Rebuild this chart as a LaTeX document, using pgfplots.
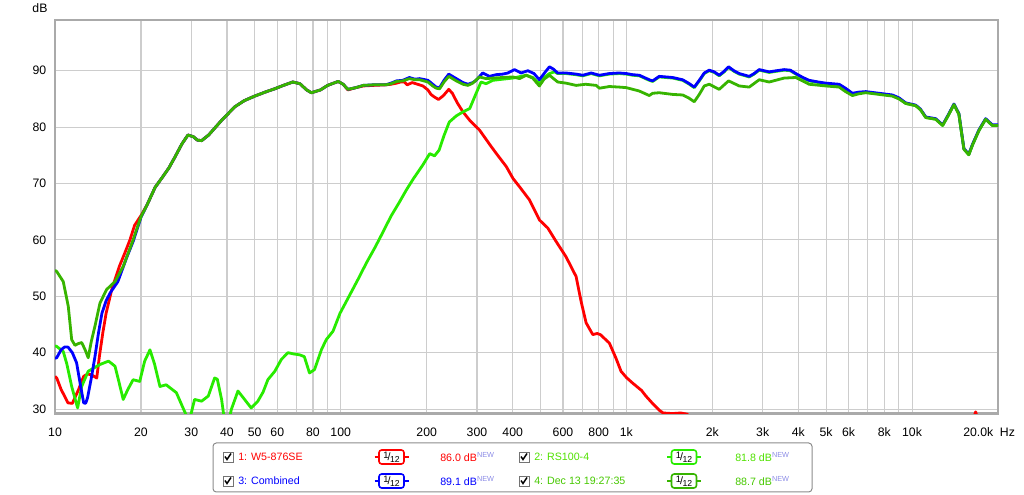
\documentclass[border=0pt]{standalone}
\usepackage{pgfplots}
\pgfplotsset{compat=1.18}
\usepackage{fontspec}
\setmainfont{Liberation Sans}
\definecolor{cRed}{RGB}{255,0,0}
\definecolor{cBlue}{RGB}{0,0,255}
\definecolor{cLime}{RGB}{40,235,0}
\definecolor{cDark}{RGB}{55,180,0}
\definecolor{cLimeTxt}{RGB}{80,225,0}
\definecolor{cDarkTxt}{RGB}{70,200,0}
\definecolor{cGrid}{RGB}{205,205,205}
\definecolor{cFrame}{RGB}{170,170,170}
\definecolor{cNew}{RGB}{140,140,230}
\newcommand{\tfont}{\fontsize{9.2}{11}\selectfont}
\newcommand{\lfont}{\fontsize{8}{9.5}\selectfont}
\newcommand{\chk}[2]{%
  \draw[black!55, line width=0.6pt, fill=white] (#1,#2-5) rectangle (#1+10,#2+5);
  \draw[black, line width=1.1pt] (#1+2,#2-0.5) -- (#1+4,#2+2.5) -- (#1+8,#2-3.5);}
\newcommand{\filt}[3]{%
  \draw[#3, line width=1pt] (#1,#2) -- (#1+34,#2);
  \draw[#3, line width=1.2pt, fill=white, rounded corners=2pt] (#1+4.5,#2-7) rectangle (#1+29.5,#2+7);
  \node[font=\lfont, inner sep=0] at (#1+17,#2) {\raisebox{1.8pt}{\fontsize{7}{7}\selectfont 1}\hspace{-0.6pt}/\hspace{-0.4pt}\raisebox{-1.5pt}{\fontsize{6.5}{7}\selectfont 12}};}
\begin{document}
\begin{tikzpicture}
\path[use as bounding box] (0,0) rectangle (768pt,371.25pt);
\begin{axis}[
  at={(41.25pt,61.25pt)}, anchor=south west,
  scale only axis, width=707.25pt, height=295pt,
  xmode=log, xmin=10, xmax=20000, ymin=29.24, ymax=99,
  xtick={10,20,30,40,50,60,70,80,90,100,200,300,400,500,600,700,800,900,1000,2000,3000,4000,5000,6000,7000,8000,9000,10000},
  xticklabels={10,20,30,40,50,60,{},80,{},100,200,300,400,{},600,{},800,{},1k,2k,3k,4k,5k,6k,{},8k,{},10k},
  ytick={30,40,50,60,70,80,90},
  yticklabels={30,40,50,60,70,80,90},
  grid=major,
  major grid style={draw=cGrid, line width=0.8pt},
  major tick length=0pt, minor tick length=0pt,
  axis line style={draw=cFrame, line width=2.2pt},
  ticklabel style={font=\tfont},
  xticklabel style={yshift=-7.5pt},
  yticklabel style={xshift=-3pt},
  every axis plot/.append style={line width=2.1pt, line join=round},
]
% 1: W5-876SE (red)
\addplot[cRed] coordinates {
(10,35.8)(10.14,35.5)(10.5,33.5)(11.1,31.1)(11.5,31.0)(12.1,33.5)(12.6,35.8)(13.0,36.2)(13.4,36.1)(14.0,35.5)(14.3,39.3)(14.7,43.5)(15.1,47.0)(15.8,51.2)(16.8,55.3)(17.5,57.5)(18.3,60.0)(19.0,62.6)(20,64.3)(21,66.2)(22.4,69.3)(23.6,70.9)(25,72.7)(26.3,74.7)(27.8,77.0)(29.2,78.6)(30.5,78.3)(31.5,77.7)(32.6,77.6)(34.5,78.6)(36.5,80.0)(38.3,81.2)(42.6,83.6)(46,84.7)(50,85.5)(55,86.3)(58.8,86.8)(63,87.4)(68,88.0)(72,87.7)(76,86.6)(79,86.1)(85,86.6)(90,87.4)(98,88.1)(102,87.6)(106,86.6)(113,87.0)(120,87.3)(130,87.4)(144,87.5)(150,87.6)(157,87.8)(162,88.0)(167,88.0)(171,87.5)(178,87.9)(186,87.6)(194,87.3)(202,86.6)(207,85.8)(212,85.4)(220,84.9)(229,85.6)(239,86.7)(246,86.0)(256,84.3)(268,82.7)(283,81.2)(306,79.5)(337,76.5)(357,74.8)(380,73.0)(401,70.9)(423,69.4)(458,67.1)(497,63.5)(531,62.1)(568,59.7)(615,57.0)(667,53.5)(695,49.0)(723,45.3)(763,43.2)(790,43.4)(811,43.2)(872,41.7)(920,39.0)(958,36.7)(1000,35.6)(1052,34.6)(1130,33.3)(1171,32.3)(1235,31.0)(1303,29.8)(1345,29.3)(1450,29.2)(1550,29.3)(1630,29.1)(1700,28.3)(1800,26.5)(2000,25)(10000,25)(15800,26)(16700,29.5)(17500,26)(20000,25)
};
% 2: RS100-4 (lime)
\addplot[cLime] coordinates {
(10,41.2)(10.14,41.1)(10.69,40.2)(11.0,38.0)(11.44,34.0)(12.0,30.2)(12.4,34.0)(13.07,36.7)(14.37,37.9)(15.4,38.5)(16.22,37.6)(16.8,34.5)(17.33,31.7)(18.0,33.5)(18.77,35.2)(19.8,34.9)(20.6,38.5)(21.5,40.5)(22.3,38.0)(23.3,34.0)(24.5,34.3)(26.6,32.9)(28.4,29.6)(29.5,27.8)(30.8,31.7)(32.6,31.4)(34.4,32.3)(36.2,35.5)(37.0,35.3)(38.3,31.7)(39.2,28.0)(40.5,27.5)(41.4,29.9)(43.7,33.2)(46.1,31.7)(48.6,30.2)(51.3,31.4)(53.5,33.0)(55.6,35.2)(58.8,36.7)(62.0,38.8)(65.4,40.0)(68,39.8)(72,39.6)(74.6,39.3)(77.8,36.4)(81,37.0)(85.6,40.5)(89,42.3)(94,43.8)(99.5,47.0)(107,50.0)(115,53.0)(123,55.9)(132,58.7)(141,61.5)(150,64.2)(161,66.8)(170,68.9)(180,70.9)(194,73.3)(205,75.3)(213,74.9)(221,75.9)(230,78.5)(240,80.9)(254,82.0)(268,82.7)(283,83.3)(298,86.0)(310,88.0)(323,87.7)(341,88.3)(369,88.5)(401,88.7)(446,89.2)(470,88.8)(496,87.7)(515,88.8)(538,89.5)(560,89.8)(575,89.5)(615,89.5)(667,89.3)(704,89.1)(753,89.5)(805,89.1)(872,89.4)(945,89.5)(1000,89.4)(1052,89.2)(1110,89.1)(1203,88.3)(1236,88.1)(1303,88.9)(1452,88.7)(1574,88.3)(1650,87.7)(1729,87.0)(1800,88.2)(1874,89.5)(1950,90.0)(2030,89.7)(2114,89.1)(2200,89.8)(2279,90.6)(2380,89.9)(2484,89.4)(2692,88.9)(2800,89.4)(2918,90.1)(3162,89.7)(3350,89.9)(3568,90.1)(3750,90.0)(3920,89.4)(4150,88.7)(4364,88.2)(4700,87.9)(4991,87.7)(5557,87.5)(5850,86.8)(6185,85.9)(6500,86.1)(6887,86.2)(7670,85.9)(8535,85.6)(9000,85.1)(9506,84.2)(10300,83.8)(10700,83.1)(11170,81.7)(12100,81.4)(12800,80.3)(13400,82.1)(14020,84.0)(14590,82.3)(15190,76.1)(15800,75.1)(16300,76.9)(17150,79.4)(18100,81.4)(19100,80.3)(20000,80.3)
};
% 3: Combined (blue)
\addplot[cBlue] coordinates {
(10,39.0)(10.14,39.1)(10.5,40.5)(10.8,41.0)(11.1,41.0)(11.5,40.0)(11.9,38.2)(12.3,34.0)(12.6,31.1)(12.8,31.0)(13.0,32.0)(13.4,35.5)(13.8,39.3)(14.2,43.5)(14.6,47.0)(15.1,49.2)(15.6,50.6)(16.6,52.6)(17.8,56.8)(18.8,59.8)(19.5,62.3)(20,64.0)(21,66.2)(22.4,69.3)(23.6,70.9)(25,72.7)(26.3,74.7)(27.8,77.0)(29.2,78.6)(30.5,78.3)(31.5,77.7)(32.6,77.6)(34.5,78.6)(36.5,80.0)(38.3,81.2)(42.6,83.6)(46,84.7)(50,85.5)(55,86.3)(58.8,86.8)(63,87.4)(68,88.0)(72,87.7)(76,86.6)(79,86.1)(85,86.6)(90,87.4)(98,88.1)(102,87.6)(106,86.7)(113,87.0)(120,87.4)(130,87.5)(144,87.5)(150,87.8)(157,88.2)(165,88.3)(174,88.8)(182,88.5)(189,88.6)(202,88.3)(210,87.6)(216,87.1)(222,87.0)(230,88.3)(239,89.4)(254,88.6)(268,87.9)(279,87.6)(290,87.9)(298,88.3)(314,89.6)(332,89.0)(350,89.3)(369,89.4)(385,89.6)(406,90.2)(428,89.6)(452,90.0)(475,89.5)(496,88.4)(515,89.5)(538,90.7)(555,90.3)(575,89.6)(615,89.6)(667,89.4)(704,89.2)(753,89.6)(805,89.2)(872,89.5)(945,89.6)(1000,89.5)(1052,89.3)(1110,89.2)(1203,88.4)(1236,88.2)(1303,89.0)(1452,88.8)(1574,88.4)(1650,87.8)(1729,87.1)(1800,88.3)(1874,89.6)(1950,90.1)(2030,89.8)(2114,89.2)(2200,89.9)(2279,90.7)(2380,90.0)(2484,89.5)(2692,89.0)(2800,89.5)(2918,90.2)(3162,89.8)(3350,90.0)(3568,90.2)(3750,90.1)(3920,89.5)(4150,88.8)(4364,88.3)(4700,88.0)(4991,87.8)(5557,87.6)(5850,86.9)(6185,86.0)(6500,86.2)(6887,86.3)(7670,86.0)(8535,85.7)(9000,85.2)(9506,84.3)(10300,83.9)(10700,83.2)(11170,81.8)(12100,81.5)(12800,80.4)(13400,82.2)(14020,84.1)(14590,82.4)(15190,76.2)(15800,75.2)(16300,77.0)(17150,79.5)(18100,81.5)(19100,80.4)(20000,80.4)
};
% 4: Dec 13 19:27:35 (dark green)
\addplot[cDark] coordinates {
(10,54.6)(10.14,54.4)(10.69,52.6)(11.13,48.2)(11.44,42.3)(11.75,41.3)(12.06,41.6)(12.4,41.8)(12.75,40.5)(13.07,39.1)(13.4,42.0)(13.8,44.7)(14.37,48.8)(15.16,51.2)(16.22,52.6)(17.33,55.3)(18.77,60.0)(19.5,62.5)(20,64.1)(21,66.2)(22.4,69.3)(23.6,70.9)(25,72.7)(26.3,74.7)(27.8,77.0)(29.2,78.6)(30.5,78.3)(31.5,77.7)(32.6,77.6)(34.5,78.6)(36.5,80.0)(38.3,81.2)(42.6,83.6)(46,84.7)(50,85.5)(55,86.3)(58.8,86.8)(63,87.4)(68,88.0)(72,87.7)(76,86.6)(79,86.1)(85,86.6)(90,87.4)(98,88.1)(102,87.6)(106,86.7)(113,87.0)(120,87.4)(130,87.5)(144,87.5)(150,87.7)(157,88.1)(165,88.2)(174,88.6)(182,88.4)(189,88.4)(202,88.0)(210,87.3)(216,86.9)(222,86.8)(230,88.0)(239,89.0)(254,88.2)(268,87.6)(279,87.4)(290,87.8)(306,88.9)(323,88.6)(341,88.7)(369,88.8)(401,88.9)(423,88.6)(446,89.2)(470,88.7)(496,87.3)(515,88.5)(538,89.2)(575,88.0)(615,87.8)(667,87.4)(720,87.6)(784,87.4)(805,86.9)(872,87.2)(945,87.1)(1000,87.0)(1110,86.4)(1203,85.6)(1236,86.0)(1303,86.1)(1452,85.8)(1574,85.7)(1650,85.2)(1729,84.5)(1800,85.8)(1874,87.3)(1950,87.6)(2114,86.7)(2279,88.2)(2484,87.3)(2692,87.1)(2918,88.4)(3162,88.0)(3568,88.7)(3920,88.8)(4364,87.6)(4991,87.3)(5557,87.1)(5850,86.3)(6185,85.6)(6500,85.9)(6887,86.1)(7670,85.8)(8535,85.5)(9000,85.0)(9506,84.2)(10300,83.8)(10700,83.1)(11170,81.7)(12100,81.4)(12800,80.3)(13400,82.1)(14020,84.0)(14590,82.3)(15190,76.1)(15800,75.1)(16300,76.9)(17150,79.4)(18100,81.4)(19100,80.3)(20000,80.3)
};
\end{axis}
\begin{scope}[shift={(0,371.25pt)}, x=0.75pt, y=-0.75pt]
\node[font=\tfont] at (40,8) {dB};
\node[anchor=west, font=\tfont, inner sep=0] at (963,432) {20.0k\hspace{5pt}Hz};
\draw[black!45, rounded corners=2.5pt, line width=0.75pt] (213,443) rectangle (812,492);
% row 1
\chk{223}{457}
\node[anchor=west, font=\lfont, inner sep=0, text=cRed] at (238,457) {1: W5-876SE};
\filt{374.5}{457}{cRed}
\node[anchor=west, font=\lfont, inner sep=0, text=cRed] at (440,457) {86.0 dB\textsuperscript{\color{cNew}\fontsize{5.5}{6}\selectfont NEW}};
\chk{519}{457}
\node[anchor=west, font=\lfont, inner sep=0, text=cLimeTxt] at (534,457) {2: RS100-4};
\filt{667}{457}{cLime}
\node[anchor=west, font=\lfont, inner sep=0, text=cLimeTxt] at (735,457) {81.8 dB\textsuperscript{\color{cNew}\fontsize{5.5}{6}\selectfont NEW}};
% row 2
\chk{223}{481}
\node[anchor=west, font=\lfont, inner sep=0, text=cBlue] at (238,481) {3: Combined};
\filt{374.5}{481}{cBlue}
\node[anchor=west, font=\lfont, inner sep=0, text=cBlue] at (440,481) {89.1 dB\textsuperscript{\color{cNew}\fontsize{5.5}{6}\selectfont NEW}};
\chk{519}{481}
\node[anchor=west, font=\lfont, inner sep=0, text=cDarkTxt] at (534,481) {4: Dec 13 19:27:35};
\filt{667}{481}{cDark}
\node[anchor=west, font=\lfont, inner sep=0, text=cDarkTxt] at (735,481) {88.7 dB\textsuperscript{\color{cNew}\fontsize{5.5}{6}\selectfont NEW}};
\end{scope}
\end{tikzpicture}
\end{document}
